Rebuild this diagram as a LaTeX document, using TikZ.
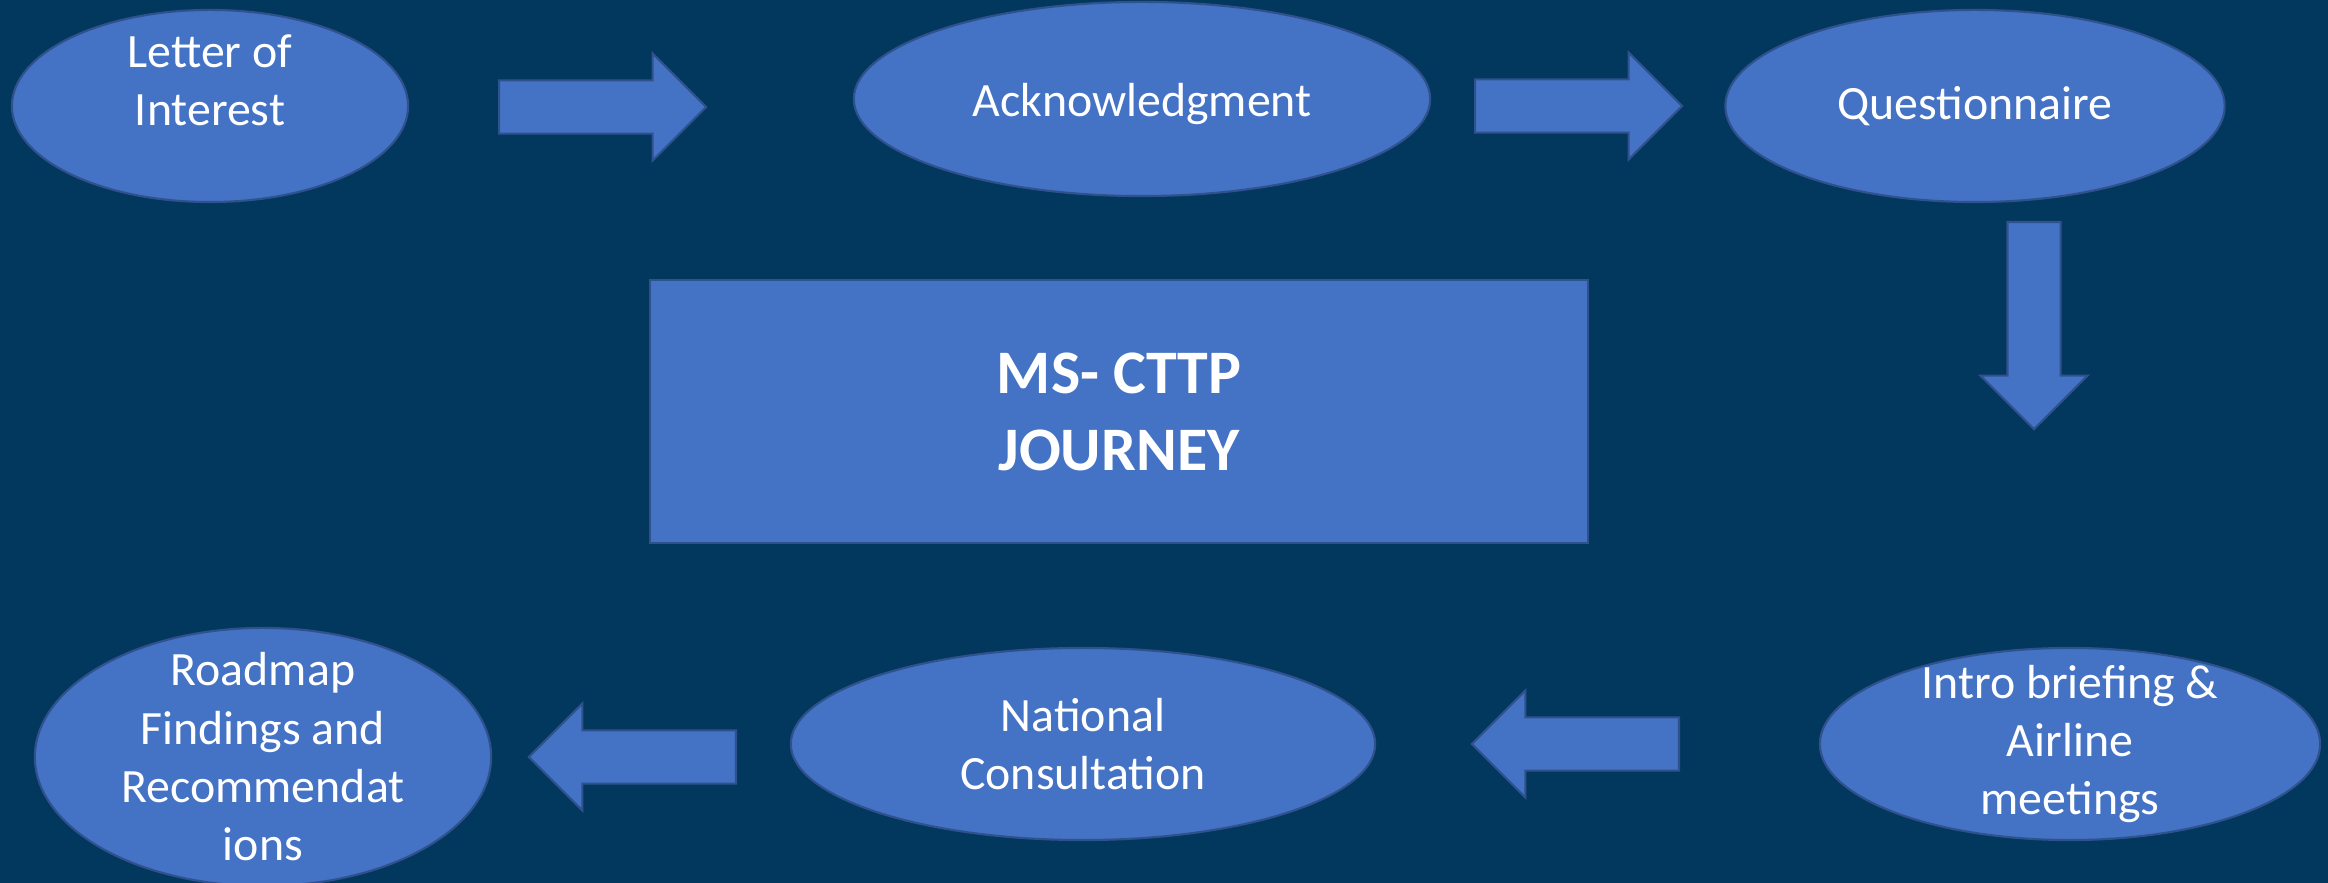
\documentclass[tikz,border=0pt]{standalone}
\usepackage{fontspec}
\setmainfont{Carlito}
\usetikzlibrary{shapes.geometric,shapes.arrows}
\definecolor{navyback}{RGB}{3,56,94}
\definecolor{stepfill}{RGB}{68,114,196}
\definecolor{stepline}{RGB}{47,82,143}
\tikzset{
	stepshape/.style={ellipse,draw=stepline,fill=stepfill,line width=0.6pt,inner sep=0pt},
	steptext/.style={text=white,align=center,inner sep=0pt,font=\fontsize{13.6}{16.6}\selectfont},
	flowarrow/.style={single arrow,draw=stepline,fill=stepfill,line width=0.6pt,single arrow head extend=0.27cm,single arrow tip angle=90,minimum height=2.07cm,inner xsep=0pt,inner ysep=0.255cm,anchor=tail}
}
\begin{document}
\begin{tikzpicture}[x=0.01cm,y=-0.01cm]
			\useasboundingbox (0,0) rectangle (2328,883);
			\fill[navyback] (0,0) rectangle (2328,883);
			\node[stepshape,minimum width=3.96cm,minimum height=1.92cm] (letter) at (210,106) {};
			\node[stepshape,minimum width=5.76cm,minimum height=1.94cm] (ack) at (1142,99) {};
			\node[stepshape,minimum width=4.99cm,minimum height=1.92cm] (quest) at (1975,106) {};
			\node[stepshape,minimum width=5.00cm,minimum height=1.92cm] (intro) at (2070,744) {};
			\node[stepshape,minimum width=5.84cm,minimum height=1.92cm] (national) at (1083,744) {};
			\node[stepshape,minimum width=4.56cm,minimum height=2.58cm] (roadmap) at (263,757) {};
			\node[draw=stepline,fill=stepfill,line width=0.6pt,minimum width=9.38cm,minimum height=2.63cm] (journey) at (1119,411.5) {};
			\node[steptext] (lettertext) at (210,80) {Letter of\\Interest};
			\node[steptext] (acktext) at (1142,104) {Acknowledgment};
			\node[steptext] (questtext) at (quest) {Questionnaire};
			\node[steptext] (introtext) at (intro) {Intro briefing \&\\Airline\\meetings};
			\node[steptext] (nationaltext) at (national) {National\\Consultation};
			\node[steptext] (roadmaptext) at (roadmap) {Roadmap\\Findings and\\Recommendat\\ions};
			\node[text=white,align=center,inner sep=0pt,font=\fontsize{17.6}{21.9}\selectfont\bfseries] (journeytext) at (journey) {MS- CTTP\\JOURNEY};
			\node[flowarrow] (letterack) at (498,107) {};
			\node[flowarrow] (ackquest) at (1474,106) {};
			\node[flowarrow,shape border rotate=270,inner xsep=0.255cm,inner ysep=0pt] (questintro) at (2034,221) {};
			\node[flowarrow,shape border rotate=180] (intronational) at (1680,744) {};
			\node[flowarrow,shape border rotate=180] (nationalroadmap) at (737,757) {};
\end{tikzpicture}
\end{document}
